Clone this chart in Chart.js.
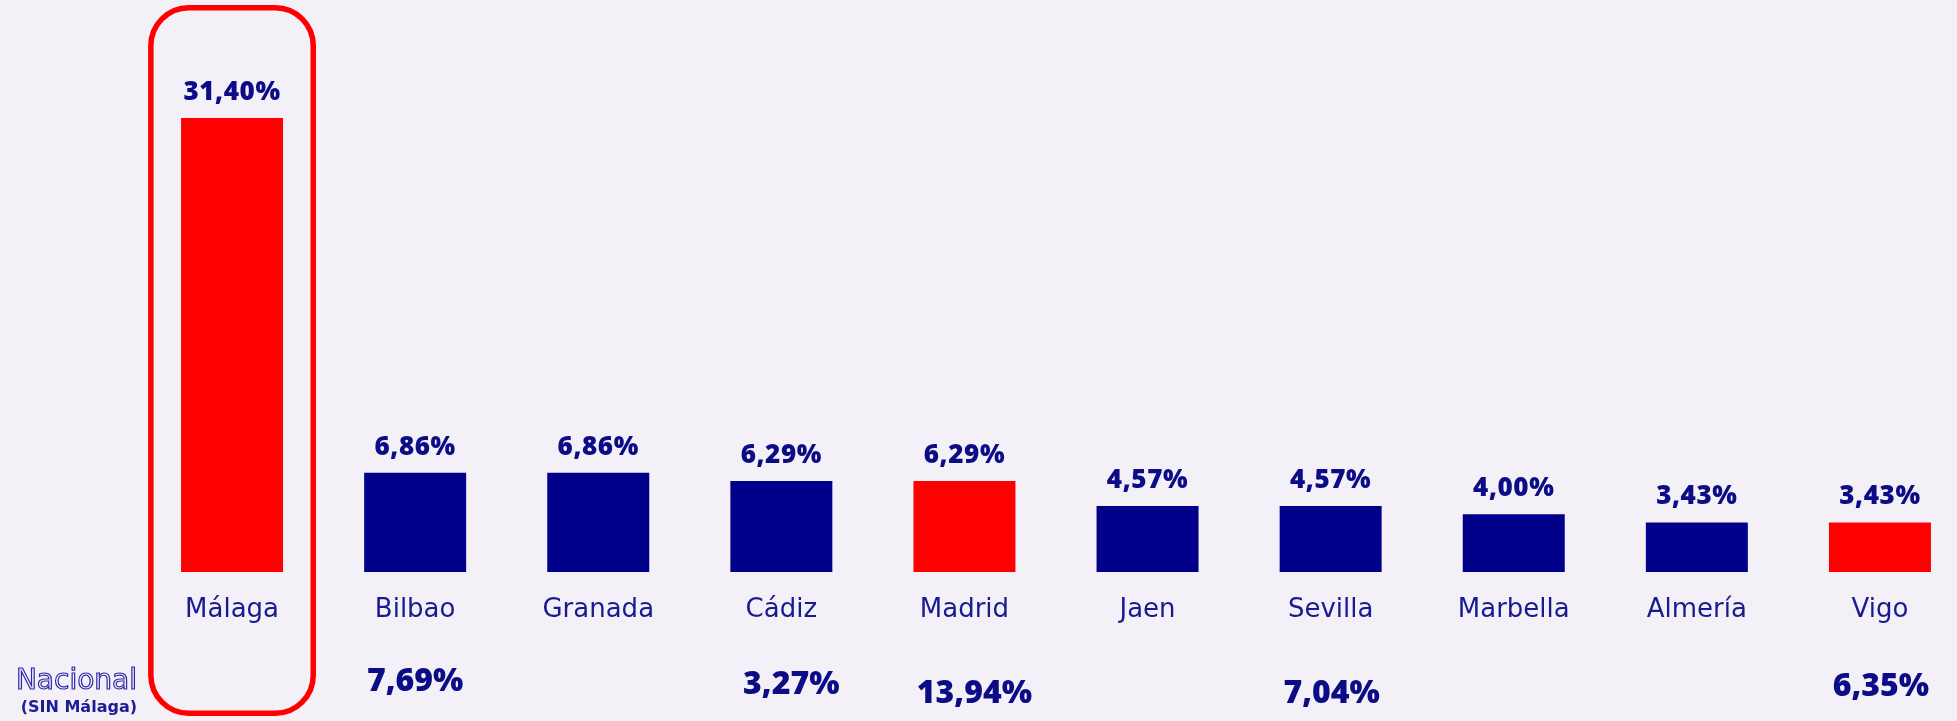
<!DOCTYPE html>
<html>
<head>
<meta charset="utf-8">
<script src="https://cdn.jsdelivr.net/npm/chart.js@4.4.0/dist/chart.umd.min.js"></script>
<style>
  html, body { margin: 0; padding: 0; background: #f3f0f8; overflow: hidden; width: 1957px; height: 721px; }
  #wrap { position: absolute; left: 0; top: 0; width: 1972px; height: 721px; }
</style>
</head>
<body>
<div id="wrap"><canvas id="c"></canvas></div>
<script>
// ---- data ----
const categories = ['Málaga', 'Bilbao', 'Granada', 'Cádiz', 'Madrid', 'Jaen', 'Sevilla', 'Marbella', 'Almería', 'Vigo'];
const values = [31.40, 6.86, 6.86, 6.29, 6.29, 4.57, 4.57, 4.00, 3.43, 3.43];
const nacionalValues = [null, 7.69, null, 3.27, 13.94, null, 7.04, null, null, 6.35];
const highlightedCities = ['Málaga', 'Madrid', 'Vigo'];
const nacionalTitle = 'Nacional';
const nacionalSubtitle = '(SIN Málaga)';

// ---- styles ----
const RED = '#ff0000';
const BLUE = '#00008b';
const TEXT = '#0c0c86';
const LABEL = '#1a1a90';
const FONT = '"DejaVu Sans", sans-serif';
const BOLDFONT = '"Open Sans", "DejaVu Sans", sans-serif';
// small layout nudges for the "Nacional" row (pixels)
const nacDx = [0, 0, 0, 10, 10, 0, 1, 0, 0, 1];
const nacDy = [0, -5, 0, -2, 7, 0, 7, 0, 0, 0];

const fmt = v => v.toFixed(2).replace('.', ',') + '%';

const overlay = {
  id: 'overlay',
  afterDatasetsDraw(chart) {
    const ctx = chart.ctx;
    const meta = chart.getDatasetMeta(0);
    const xs = chart.scales.x;
    const area = chart.chartArea;
    ctx.save();
    // value labels above bars
    ctx.fillStyle = TEXT;
    ctx.font = '800 26px ' + BOLDFONT;
    if ('letterSpacing' in ctx) ctx.letterSpacing = '0.6px';
    ctx.textAlign = 'center';
    ctx.textBaseline = 'alphabetic';
    meta.data.forEach((bar, i) => {
      ctx.fillText(fmt(values[i]), bar.x, bar.y - 18);
    });
    // national row values
    if ('letterSpacing' in ctx) ctx.letterSpacing = '0px';
    ctx.font = '800 32px ' + BOLDFONT;
    nacionalValues.forEach((v, i) => {
      if (v === null) return;
      ctx.fillText(fmt(v), xs.getPixelForValue(i) + nacDx[i], area.bottom + 124 + nacDy[i]);
    });
    // Nacional title (outlined)
    ctx.textAlign = 'right';
    ctx.font = '28px ' + FONT;
    ctx.lineWidth = 1.2;
    ctx.strokeStyle = '#2a2aa8';
    ctx.fillStyle = '#f3f0f8';
    ctx.fillText(nacionalTitle, 137, area.bottom + 117);
    ctx.strokeText(nacionalTitle, 137, area.bottom + 117);
    ctx.fillStyle = '#1c1c96';
    ctx.font = 'bold 16px ' + FONT;
    ctx.fillText(nacionalSubtitle, 137, area.bottom + 140);
    // highlight rounded box around Málaga
    const cx = xs.getPixelForValue(0);
    const left = cx - 81.2, right = cx + 81.2, top = 7.8, bottom = 713.2, r = 38;
    ctx.beginPath();
    ctx.lineWidth = 5.5;
    ctx.strokeStyle = RED;
    ctx.roundRect(left, top, right - left, bottom - top, r);
    ctx.stroke();
    ctx.restore();
  }
};

new Chart(document.getElementById('c'), {
  type: 'bar',
  data: {
    labels: categories,
    datasets: [{
      data: values,
      backgroundColor: categories.map(c => highlightedCities.includes(c) ? RED : BLUE),
      borderWidth: 0,
      categoryPercentage: 1,
      barPercentage: 0.557
    }]
  },
  options: {
    responsive: true,
    maintainAspectRatio: false,
    animation: false,
    layout: { padding: { left: 140.5, right: 0.5, top: 66, bottom: 71.8 } },
    plugins: { legend: { display: false }, tooltip: { enabled: false } },
    scales: {
      x: {
        grid: { display: false, drawTicks: false },
        border: { display: false },
        ticks: { color: LABEL, font: { family: FONT, size: 26 }, padding: 23, maxRotation: 0, autoSkip: false }
      },
      y: { display: false, min: 0, max: 35 }
    }
  },
  plugins: [overlay]
});
</script>
</body>
</html>
